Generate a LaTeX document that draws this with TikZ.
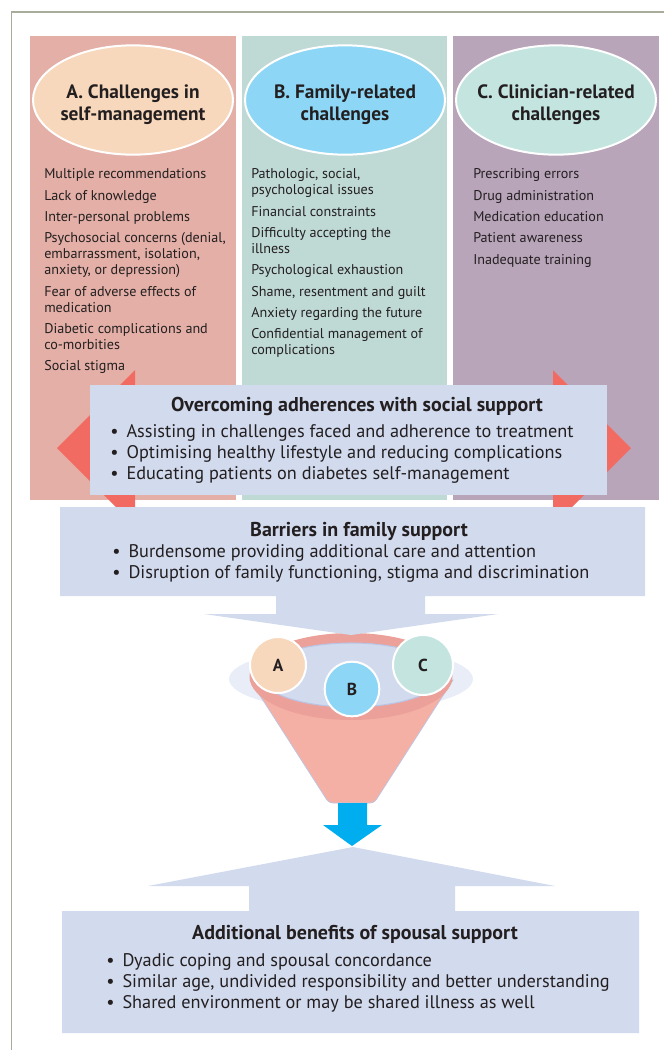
\documentclass[tikz,border=0pt]{standalone}
\usepackage{fontspec}
\setmainfont{PT Sans}
\usetikzlibrary{shapes.geometric}
\definecolor{frameC}{HTML}{A8AC9A}
\definecolor{colA}{HTML}{E3AFA6}
\definecolor{colB}{HTML}{BFD9D5}
\definecolor{colC}{HTML}{B9A5B9}
\definecolor{ellA}{HTML}{F7D8BC}
\definecolor{ellB}{HTML}{8DD6F5}
\definecolor{ellC}{HTML}{C3E4DF}
\definecolor{boxC}{HTML}{D2DAEE}
\definecolor{redC}{HTML}{F26B63}
\definecolor{txt}{HTML}{231F20}
\definecolor{funnelC}{HTML}{F5B0A5}
\definecolor{rimC}{HTML}{EBA199}
\definecolor{rimin}{HTML}{BAC4E4}
\definecolor{haloC}{HTML}{E9EDF8}
\definecolor{blueC}{HTML}{00AEEF}
\tikzset{
  headell/.style={ellipse, draw=white, line width=1.5pt, minimum width=150pt, minimum height=82pt, inner sep=0pt},
  headtext/.style={inner sep=0pt, align=center, text=txt, font=\fontsize{14.5}{16.5}\selectfont\bfseries},
  listtext/.style={anchor=north west, inner sep=0pt, align=left, text=txt, font=\fontsize{10.6}{12}\selectfont},
  boxtitle/.style={inner sep=0pt, text=txt, font=\fontsize{15}{15.75}\selectfont\bfseries},
  bullets/.style={anchor=north west, inner sep=0pt, align=left, text=txt, font=\fontsize{13.7}{15.75}\selectfont},
  letter/.style={circle, draw=white, line width=1.5pt, inner sep=0pt, text=txt, font=\fontsize{13}{15}\selectfont\bfseries},
}
\newcommand{\bul}{\textbullet\hspace{6pt}}
\begin{document}
\begin{tikzpicture}[x=0.75pt,y=-0.75pt]
\useasboundingbox (0,0) rectangle (664,1050);
% frame
\draw[frameC, line width=1.1pt] (11.5,1050) -- (11.5,12) -- (664,12);
% columns
\fill[colA] (30,36) rectangle (236,500);
\fill[colB] (242,36) rectangle (447,500);
\fill[colC] (453,36) rectangle (659,500);
% heading ellipses
\node[headell, fill=ellA] (ea) at (133,100) {};
\node[headell, fill=ellB] (eb) at (345,100) {};
\node[headell, fill=ellC] (ec) at (556,100) {};
\node[headtext] (ta) at (133,105) {A. Challenges in\\self-management};
\node[headtext] (tb) at (345,105) {B. Family-related\\challenges};
\node[headtext] (tc) at (556,105) {C. Clinician-related\\challenges};
% lists
\node[listtext] (la) at (44,168.6) {Multiple recommendations\\[4pt]
Lack of knowledge\\[4pt]
Inter-personal problems\\[4pt]
Psychosocial concerns (denial,\\embarrassment, isolation,\\anxiety, or depression)\\[4pt]
Fear of adverse effects of\\medication\\[4pt]
Diabetic complications and\\co-morbities\\[4pt]
Social stigma};
\node[listtext] (lb) at (251,168.6) {Pathologic, social,\\psychological issues\\[4pt]
Financial constraints\\[4pt]
Difficulty accepting the\\illness\\[4pt]
Psychological exhaustion\\[4pt]
Shame, resentment and guilt\\[4pt]
Anxiety regarding the future\\[4pt]
Confidential management of\\complications};
\node[listtext] (lc) at (473,168.6) {Prescribing errors\\[4pt]
Drug administration\\[4pt]
Medication education\\[4pt]
Patient awareness\\[4pt]
Inadequate training};
% red arrow heads
\fill[redC] (135,370) -- (57,448) -- (135,526) -- cycle;
\fill[redC] (553,370) -- (631,448) -- (553,526) -- cycle;
% overcoming box
\fill[boxC] (90,385) rectangle (607,495);
\node[boxtitle] (ot) at (357,406.5) {Overcoming adherences with social support};
\node[bullets] (ob) at (110,424.5) {\bul Assisting in challenges faced and adherence to treatment\\
\bul Optimising healthy lifestyle and reducing complications\\
\bul Educating patients on diabetes self-management};
% funnel
\fill[haloC] (351,679) ellipse [x radius=122, y radius=32];
\draw[rimin, line width=0.5pt, fill=funnelC] (250,680) -- (325,797) to[out=-60,in=180] (333,803) -- (370,803) to[out=0,in=-120] (378,797) -- (453,680) -- cycle;
\fill[rimC] (351,676.5) ellipse [x radius=101.5, y radius=43.5];
\draw[rimin, line width=0.8pt, fill=boxC] (351,675) ellipse [x radius=91, y radius=32];
\node[letter, fill=ellA, minimum size=42pt] (ca) at (278,665) {A};
\node[letter, fill=ellC, minimum size=45pt] (cc) at (423,665) {C};
\node[letter, fill=ellB, minimum size=41pt] (cb) at (352,689) {B};
% barriers arrow box
\fill[boxC] (60,507) -- (645,507) -- (645,596) -- (425,596) -- (425,614) -- (498,614) -- (351,635) -- (204,614) -- (276,614) -- (276,596) -- (60,596) -- cycle;
\node[boxtitle] (bt) at (359,531.5) {Barriers in family support};
\node[bullets] (bb) at (112,544) {\bul Burdensome providing additional care and attention\\
\bul Disruption of family functioning, stigma and discrimination};
% blue arrow
\fill[blueC] (338,803) -- (367,803) -- (367,825) -- (382,825) -- (352,846) -- (323,825) -- (338,825) -- cycle;
% bottom box
\fill[boxC] (62,911) -- (249,911) -- (249,886) -- (148,886) -- (353,847) -- (555,886) -- (455,886) -- (455,911) -- (639,911) -- (639,1033) -- (62,1033) -- cycle;
\node[boxtitle] (st) at (355,934.5) {Additional benefits of spousal support};
\node[bullets] (sb) at (106,953) {\bul Dyadic coping and spousal concordance\\
\bul Similar age, undivided responsibility and better understanding\\
\bul Shared environment or may be shared illness as well};
\end{tikzpicture}
\end{document}
